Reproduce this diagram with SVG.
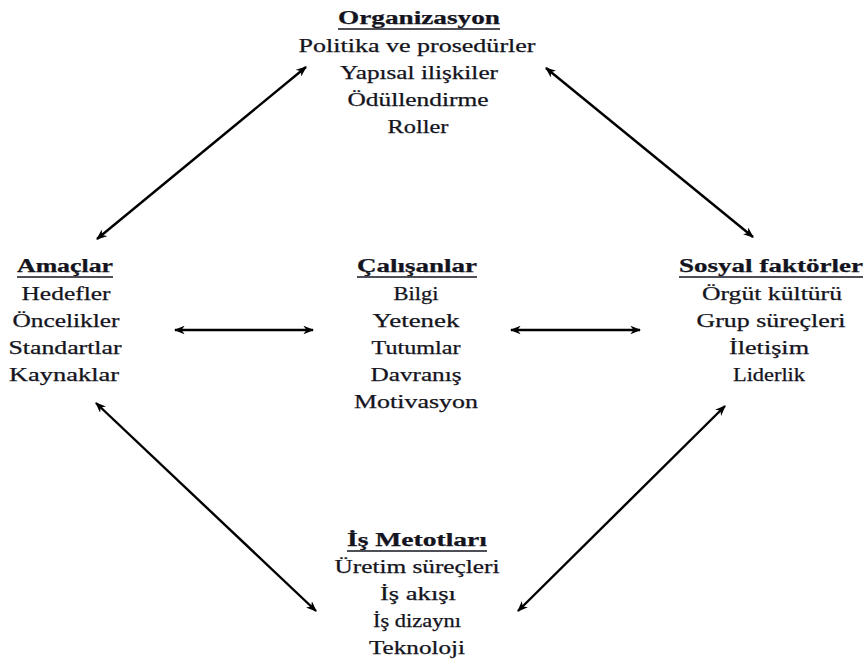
<svg xmlns="http://www.w3.org/2000/svg" width="866" height="662" viewBox="0 0 866 662">
  <style>
    text { font-family: 'Liberation Serif', 'DejaVu Serif', serif; font-size: 18px; fill: #141420; stroke: #141420; stroke-width: 0.25; text-anchor: middle; }
    .head { font-weight: bold; }
    .rule { stroke: #141420; stroke-width: 1.5; }
    .conn { stroke: #000; stroke-width: 2.4; fill: none; marker-start: url(#arrow); marker-end: url(#arrow); }
  </style>
  <defs>
    <marker id="arrow" viewBox="0 0 10 8" refX="9" refY="4" markerWidth="4.5" markerHeight="3.6" orient="auto-start-reverse" markerUnits="strokeWidth">
      <path d="M0,0 L10,4 L0,8 L3,4 Z" fill="#000"/>
    </marker>
  </defs>
  <rect width="866" height="662" fill="#fff"/>

  <g id="connectors">
    <line class="conn" x1="97" y1="239" x2="306" y2="67"/>
    <line class="conn" x1="546" y1="68" x2="753" y2="237"/>
    <line class="conn" x1="175" y1="330" x2="313" y2="330"/>
    <line class="conn" x1="511" y1="330" x2="640" y2="330"/>
    <line class="conn" x1="96" y1="403" x2="316" y2="611"/>
    <line class="conn" x1="518" y1="611" x2="725" y2="406"/>
  </g>

  <g id="organizasyon">
    <text class="head" x="419" y="24" textLength="162" lengthAdjust="spacingAndGlyphs">Organizasyon</text>
    <line class="rule" x1="338" y1="29" x2="500" y2="29"/>
    <text x="417" y="52" textLength="237" lengthAdjust="spacingAndGlyphs">Politika ve prosedürler</text>
    <text x="419" y="79" textLength="158" lengthAdjust="spacingAndGlyphs">Yapısal ilişkiler</text>
    <text x="418" y="106" textLength="141" lengthAdjust="spacingAndGlyphs">Ödüllendirme</text>
    <text x="418" y="133" textLength="61" lengthAdjust="spacingAndGlyphs">Roller</text>
  </g>

  <g id="amaclar">
    <text class="head" x="65" y="272" textLength="96" lengthAdjust="spacingAndGlyphs">Amaçlar</text>
    <line class="rule" x1="17" y1="277" x2="113" y2="277"/>
    <text x="66" y="300" textLength="89" lengthAdjust="spacingAndGlyphs">Hedefler</text>
    <text x="66" y="327" textLength="107" lengthAdjust="spacingAndGlyphs">Öncelikler</text>
    <text x="65" y="354" textLength="113" lengthAdjust="spacingAndGlyphs">Standartlar</text>
    <text x="64" y="381" textLength="110" lengthAdjust="spacingAndGlyphs">Kaynaklar</text>
  </g>

  <g id="calisanlar">
    <text class="head" x="417" y="272" textLength="120" lengthAdjust="spacingAndGlyphs">Çalışanlar</text>
    <line class="rule" x1="357" y1="277" x2="477" y2="277"/>
    <text x="416" y="300" textLength="45" lengthAdjust="spacingAndGlyphs">Bilgi</text>
    <text x="416" y="327" textLength="87" lengthAdjust="spacingAndGlyphs">Yetenek</text>
    <text x="416" y="354" textLength="89" lengthAdjust="spacingAndGlyphs">Tutumlar</text>
    <text x="416" y="381" textLength="91" lengthAdjust="spacingAndGlyphs">Davranış</text>
    <text x="416" y="408" textLength="124" lengthAdjust="spacingAndGlyphs">Motivasyon</text>
  </g>

  <g id="sosyal-faktorler">
    <text class="head" x="771" y="272" textLength="184" lengthAdjust="spacingAndGlyphs">Sosyal faktörler</text>
    <line class="rule" x1="679" y1="277" x2="863" y2="277"/>
    <text x="772" y="300" textLength="140" lengthAdjust="spacingAndGlyphs">Örgüt kültürü</text>
    <text x="771" y="327" textLength="149" lengthAdjust="spacingAndGlyphs">Grup süreçleri</text>
    <text x="769" y="354" textLength="80" lengthAdjust="spacingAndGlyphs">İletişim</text>
    <text x="769" y="381" textLength="72" lengthAdjust="spacingAndGlyphs">Liderlik</text>
  </g>

  <g id="is-metotlari">
    <text class="head" x="417" y="546" textLength="140" lengthAdjust="spacingAndGlyphs">İş Metotları</text>
    <line class="rule" x1="347" y1="551" x2="487" y2="551"/>
    <text x="417" y="573" textLength="165" lengthAdjust="spacingAndGlyphs">Üretim süreçleri</text>
    <text x="418" y="600" textLength="76" lengthAdjust="spacingAndGlyphs">İş akışı</text>
    <text x="417" y="627" textLength="88" lengthAdjust="spacingAndGlyphs">İş dizaynı</text>
    <text x="417" y="654" textLength="96" lengthAdjust="spacingAndGlyphs">Teknoloji</text>
  </g>
</svg>
